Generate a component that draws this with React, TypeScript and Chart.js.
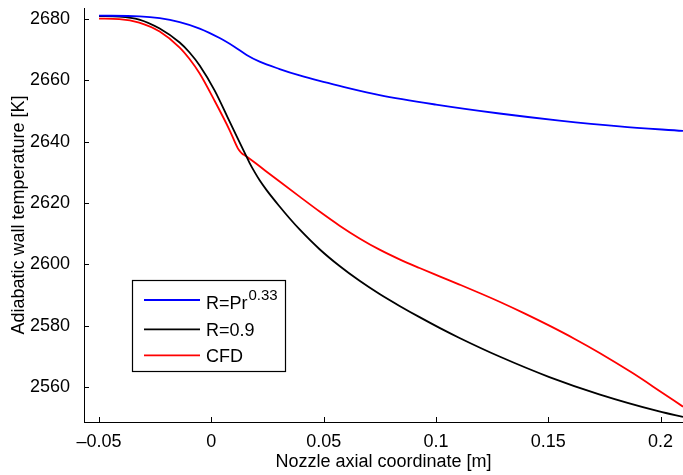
import React, { useEffect, useRef } from "react";
import { Chart, registerables } from "chart.js";

Chart.register(...registerables);

// ---- Data ----
const blueX = [-0.05, -0.032, -0.023, -0.0141, -0.0052, 0.0037, 0.0104, 0.0157, 0.0215, 0.0304, 0.0393, 0.0482, 0.0571, 0.0749, 0.1, 0.1283, 0.155, 0.1817, 0.21];
const blueT = [2681.1, 2680.9, 2680.3, 2679.0, 2676.9, 2673.8, 2670.9, 2668.3, 2666.1, 2663.7, 2661.6, 2659.8, 2658.2, 2655.2, 2652.1, 2649.2, 2646.9, 2645.0, 2643.5];

const blackX = [-0.05, -0.041, -0.0321, -0.023, -0.0141, -0.0097, -0.0052, 0.0015, 0.0081, 0.0148, 0.017, 0.0193, 0.0215, 0.0246, 0.0304, 0.0348, 0.0393, 0.0482, 0.0571, 0.066, 0.0749, 0.0838, 0.0927, 0.1016, 0.1105, 0.1283, 0.1505, 0.1727, 0.1994, 0.21];
const blackT = [2680.98, 2680.82, 2679.84, 2676.9, 2672.34, 2669.08, 2664.84, 2656.65, 2646.61, 2636.47, 2633.12, 2630.08, 2627.42, 2624.21, 2618.86, 2615.03, 2611.39, 2604.94, 2599.46, 2594.63, 2590.33, 2586.45, 2582.79, 2579.3, 2576.01, 2569.95, 2563.26, 2557.64, 2552.06, 2550.25];

const redX = [-0.05, -0.041, -0.0321, -0.023, -0.0141, -0.0097, -0.0052, 0.0015, 0.0081, 0.0118, 0.013, 0.0139, 0.0148, 0.0163, 0.0215, 0.0304, 0.0393, 0.0482, 0.0571, 0.066, 0.0749, 0.0838, 0.0927, 0.1016, 0.1105, 0.1194, 0.1283, 0.1394, 0.1505, 0.1616, 0.1727, 0.1874, 0.1994, 0.21];
const redT = [2680.16, 2680.0, 2678.86, 2675.92, 2670.71, 2666.96, 2662.23, 2653.26, 2643.8, 2637.84, 2636.63, 2635.98, 2635.59, 2634.87, 2631.97, 2627.01, 2622.09, 2617.23, 2612.63, 2608.46, 2604.8, 2601.64, 2598.81, 2596.1, 2593.41, 2590.67, 2587.82, 2584.03, 2580.02, 2575.77, 2571.2, 2564.63, 2558.83, 2553.61];

const seriesNames = ["R=Pr", "R=0.9", "CFD"];
const seriesSup = ["0.33", "", ""];
const seriesColors = ["#0000ff", "#000000", "#ff0000"];

const xTickValues = [-0.05, 0, 0.05, 0.1, 0.15, 0.2];
const xTickLabels = ["\u20130.05", "0", "0.05", "0.1", "0.15", "0.2"];
const yTickValues = [2560, 2580, 2600, 2620, 2640, 2660, 2680];
const yTickLabels = ["2560", "2580", "2600", "2620", "2640", "2660", "2680"];

const xTitle = "Nozzle axial coordinate [m]";
const yTitle = "Adiabatic wall temperature [K]";

const X_MIN = -0.0567;
const X_MAX = 0.21;
const Y_MIN = 2548.6;
const Y_MAX = 2683.6;

const FONT = "'Liberation Sans', Arial, Helvetica, sans-serif";
const FS = 18;

const zip = (xs: number[], ys: number[]) => xs.map((x, i) => ({ x, y: ys[i] }));

const inwardTicks = {
  id: "inwardTicks",
  afterDatasetsDraw(chart: any) {
    const { ctx, chartArea, scales } = chart;
    ctx.save();
    ctx.strokeStyle = "#000";
    ctx.lineWidth = 1;
    ctx.beginPath();
    scales.x.ticks.forEach((t: any) => {
      const px = Math.round(scales.x.getPixelForValue(t.value)) + 0.5;
      ctx.moveTo(px, chartArea.bottom);
      ctx.lineTo(px, chartArea.bottom - 5);
    });
    scales.y.ticks.forEach((t: any) => {
      const py = Math.round(scales.y.getPixelForValue(t.value)) + 0.5;
      ctx.moveTo(chartArea.left, py);
      ctx.lineTo(chartArea.left + 5, py);
    });
    ctx.stroke();
    ctx.restore();
  },
};

const boxLegend = {
  id: "boxLegend",
  afterDraw(chart: any) {
    const { ctx } = chart;
    ctx.save();
    const bx = 132.5, by = 280.5, bw = 153, bh = 91;
    ctx.fillStyle = "#fff";
    ctx.fillRect(bx, by, bw, bh);
    ctx.strokeStyle = "#000";
    ctx.lineWidth = 1.2;
    ctx.strokeRect(bx, by, bw, bh);
    const lineYs = [300, 329.3, 355.3];
    const baselines = [309.3, 336, 361.7];
    seriesNames.forEach((name, i) => {
      ctx.strokeStyle = seriesColors[i];
      ctx.lineWidth = 1.8;
      ctx.beginPath();
      ctx.moveTo(144, lineYs[i]);
      ctx.lineTo(200, lineYs[i]);
      ctx.stroke();
      ctx.fillStyle = "#000";
      ctx.textBaseline = "alphabetic";
      ctx.textAlign = "left";
      ctx.font = `${FS}px ${FONT}`;
      ctx.fillText(name, 206, baselines[i]);
      if (seriesSup[i]) {
        const w = ctx.measureText(name).width;
        ctx.font = `15px ${FONT}`;
        ctx.fillText(seriesSup[i], 206 + w + 1, 300);
      }
    });
    ctx.restore();
  },
};

export default function App() {
  const ref = useRef<HTMLCanvasElement | null>(null);

  useEffect(() => {
    if (!ref.current) return;
    const font = { family: FONT, size: FS };
    const chart = new Chart(ref.current, {
      type: "scatter",
      data: {
        datasets: [
          { label: seriesNames[0] + seriesSup[0], data: zip(blueX, blueT), borderColor: seriesColors[0] },
          { label: seriesNames[1], data: zip(blackX, blackT), borderColor: seriesColors[1] },
          { label: seriesNames[2], data: zip(redX, redT), borderColor: seriesColors[2] },
        ].map((d) => ({
          ...d,
          showLine: true,
          pointRadius: 0,
          borderWidth: 1.8,
          fill: false,
          cubicInterpolationMode: "monotone" as const,
        })),
      },
      options: {
        animation: false,
        responsive: false,
        devicePixelRatio: 1,
        layout: { padding: { top: 8, right: 0, left: 0, bottom: 0 } },
        plugins: { legend: { display: false }, tooltip: { enabled: false } },
        scales: {
          x: {
            type: "linear",
            min: X_MIN,
            max: X_MAX,
            afterBuildTicks: (s: any) => {
              s.ticks = xTickValues.map((v) => ({ value: v }));
            },
            afterFit: (s: any) => {
              s.height = 53;
              s.paddingLeft = 0;
              s.paddingRight = 0;
            },
            grid: { display: false },
            border: { display: true, color: "#000", width: 1 },
            ticks: {
              font,
              color: "#000",
              padding: 1,
              maxRotation: 0,
              autoSkip: false,
              callback: (v: any) => {
                const i = xTickValues.findIndex((t) => Math.abs(t - Number(v)) < 1e-9);
                return i >= 0 ? xTickLabels[i] : "";
              },
            },
            title: { display: true, text: xTitle, font, color: "#000", padding: { top: 0, bottom: 2.5 } },
          },
          y: {
            type: "linear",
            min: Y_MIN,
            max: Y_MAX,
            afterBuildTicks: (s: any) => {
              s.ticks = yTickValues.map((v) => ({ value: v }));
            },
            afterFit: (s: any) => {
              s.width = 84;
              s.paddingTop = 0;
              s.paddingBottom = 0;
            },
            grid: { display: false },
            border: { display: true, color: "#000", width: 1 },
            ticks: {
              font,
              color: "#000",
              padding: 6,
              autoSkip: false,
              callback: (v: any) => {
                const i = yTickValues.findIndex((t) => Math.abs(t - Number(v)) < 1e-9);
                return i >= 0 ? yTickLabels[i] : "";
              },
            },
            title: { display: true, text: yTitle, font, color: "#000", padding: { top: 8.5, bottom: 0 } },
          },
        },
      },
      plugins: [inwardTicks, boxLegend],
    } as any);
    return () => chart.destroy();
  }, []);

  return (
    <div style={{ position: "fixed", left: 0, top: 0, width: 683, height: 475, background: "#fff" }}>
      <canvas ref={ref} width={683} height={475} style={{ display: "block", width: 683, height: 475 }} />
    </div>
  );
}
